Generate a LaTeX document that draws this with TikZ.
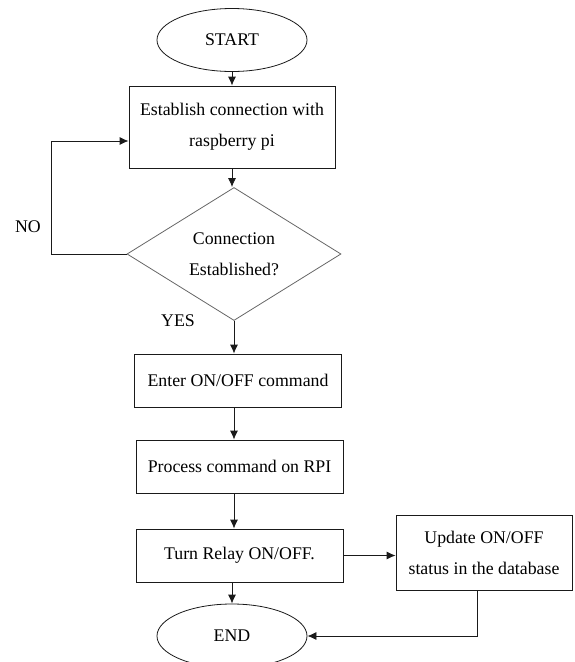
\documentclass[tikz,border=0pt]{standalone}
\usepackage{fontspec}
\setmainfont{Liberation Serif}
\usepackage{tikz}
\usetikzlibrary{positioning,shapes.geometric,arrows.meta}
\definecolor{LineBlack}{HTML}{1A1A1A}
\definecolor{LineGray}{HTML}{666666}

\begin{document}
\begin{tikzpicture}[x=1pt,y=-1pt,
    every node/.style={font=\fontsize{17.8}{31}\selectfont},
    term/.style={ellipse, draw=LineBlack, line width=0.8pt, minimum width=150pt, minimum height=63pt, inner sep=0pt},
    stepbox/.style={rectangle, draw=LineBlack, line width=0.8pt, align=center, inner sep=0pt},
    decide/.style={diamond, draw=LineGray, line width=0.8pt, align=center, inner sep=0pt, minimum width=214pt, minimum height=132pt},
    arr/.style={draw=LineBlack, line width=0.8pt, -{Latex[length=9pt,width=8pt]}}]
      \useasboundingbox (0,0) rectangle (574,662);

      % Start
      \node[term] (start) at (232,40) {START};

      % Connection
      \node[stepbox, minimum width=206pt, minimum height=82pt] (est) at (232,127) {Establish connection with\\raspberry pi};
      \node[decide] (conn) at (234,254) {Connection\\Established?};

      % Command
      \node[stepbox, minimum width=207pt, minimum height=53pt] (enter) at (238,380.5) {Enter ON/OFF command};
      \node[stepbox, minimum width=207pt, minimum height=53pt] (proc) at (239.5,466.5) {Process command on RPI};
      \node[stepbox, minimum width=207pt, minimum height=53pt] (relay) at (239.5,555.5) {Turn Relay ON/OFF.};
      \node[stepbox, minimum width=176pt, minimum height=75pt] (upd) at (484,552.5) {Update ON/OFF\\status in the database};

      % End
      \node[term, minimum height=64pt] (end) at (232,636) {END};

      % Labels
      \node (no) at (28,227) {NO};
      \node (yes) at (178,321) {YES};

      % Connectors
      \draw[arr] (start) -- (est);
      \draw[arr] (est.south) -- (est.south |- conn.north);
      \draw[arr] (conn.west) -- ++(-75,0) |- ([yshift=-14pt]est.west);
      \draw[arr] (conn.south) -- (conn.south |- enter.north);
      \draw[arr] (conn.south |- enter.south) -- (conn.south |- proc.north);
      \draw[arr] (conn.south |- proc.south) -- (conn.south |- relay.north);
      \draw[arr] (end.north |- relay.south) -- (end.north);
      \draw[arr] (relay.east) -- (relay.east -| upd.west);
      \draw[arr] ([xshift=-7pt]upd.south) |- (end.east);
    \end{tikzpicture}
\end{document}
